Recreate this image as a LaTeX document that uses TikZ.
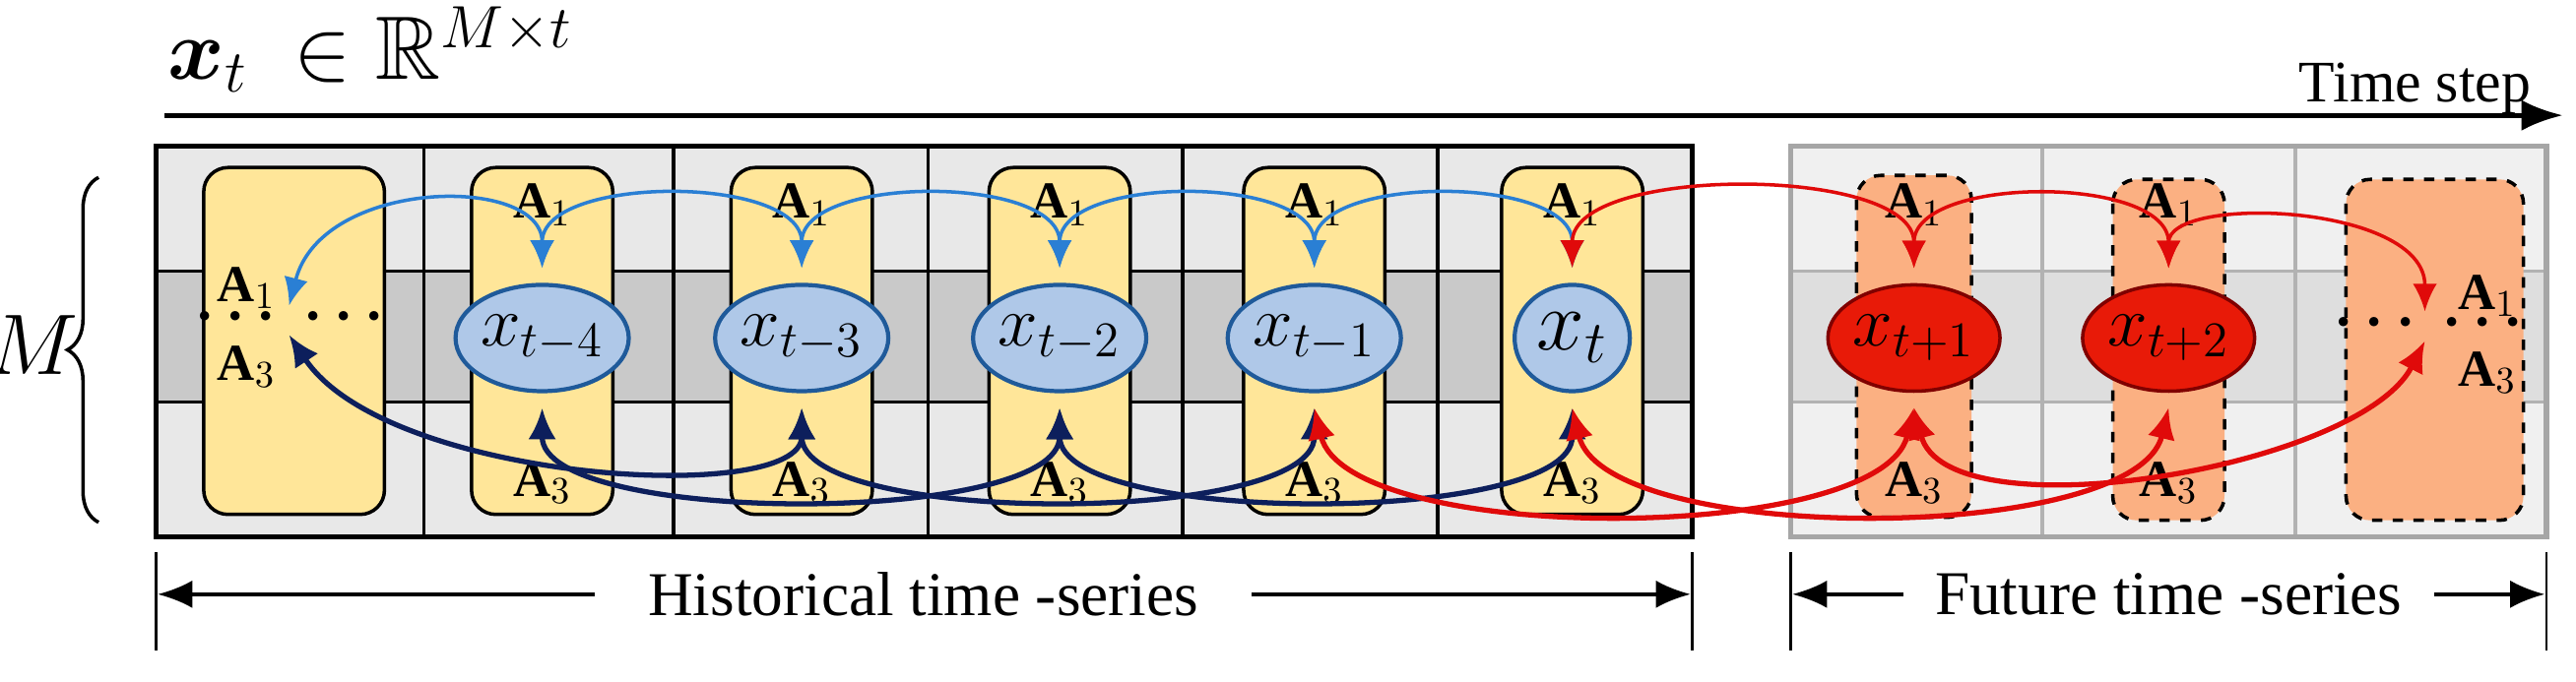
\documentclass[tikz,border=0pt]{standalone}
\usepackage{fontspec}
\setmainfont{Liberation Serif}
\usepackage{amsmath,amssymb}
\usetikzlibrary{arrows.meta,decorations.pathreplacing,shapes.geometric}
\definecolor{lg}{HTML}{E8E8E8}
\definecolor{dg}{HTML}{C9C9C9}
\definecolor{flg}{HTML}{F0F0F0}
\definecolor{fdg}{HTML}{DEDEDE}
\definecolor{yel}{HTML}{FFE699}
\definecolor{cblue}{HTML}{AFC8E8}
\definecolor{cbd}{HTML}{1F5A9A}
\definecolor{orng}{HTML}{FBB082}
\definecolor{cred}{HTML}{E81A08}
\definecolor{lblue}{HTML}{2A7FD4}
\definecolor{navy}{HTML}{0D1F5C}
\definecolor{ared}{HTML}{E00A0A}
\begin{document}
\begin{tikzpicture}[x=0.016684cm,y=-0.010006cm,
  ybox/.style={draw=black,line width=1pt,fill=yel,rounded corners=7pt},
  obox/.style={draw=black,line width=1pt,dashed,fill=orng,rounded corners=7pt},
  hist/.style={draw=cbd,line width=1.2pt,fill=cblue,ellipse,inner sep=0pt,minimum width=1.17cm,minimum height=1.08cm,font=\fontsize{20}{20}\selectfont},
  fut/.style={draw=red!50!black,line width=1pt,fill=cred,ellipse,inner sep=0pt,minimum width=1.17cm,minimum height=1.08cm,font=\fontsize{20}{20}\selectfont},
  lab/.style={font=\fontsize{15}{15}\selectfont},
  ta/.style={{Latex[length=8pt,width=7pt]}-{Latex[length=8pt,width=7pt]},line width=1pt},
  ba/.style={{Latex[length=9pt,width=8pt]}-{Latex[length=9pt,width=8pt]},line width=1.5pt}]
\useasboundingbox (0,0) rectangle (1568,692);
% historical grid
\fill[lg] (95,148) rectangle (1030,545);
\fill[dg] (95,275) rectangle (1030,408);
\foreach \x in {258,410,565,720,875} \draw[line width=1pt] (\x,148) -- (\x,545);
\draw[line width=1pt] (95,275) -- (1030,275) (95,408) -- (1030,408);
\draw[line width=1.5pt] (95,148) rectangle (1030,545);
% future grid
\fill[flg] (1090,148) rectangle (1550,545);
\fill[fdg] (1090,275) rectangle (1550,408);
\foreach \x in {1243,1397} \draw[gray!60,line width=1pt] (\x,148) -- (\x,545);
\draw[gray!60,line width=1pt] (1090,275) -- (1550,275) (1090,408) -- (1550,408);
\draw[gray!70,line width=1.5pt] (1090,148) rectangle (1550,545);
% boxes
\draw[ybox] (124,170) rectangle (234,522);
\foreach \c in {330,488,645,800,957} \draw[ybox] (\c-43,170) rectangle (\c+43,522);
\draw[obox] (1130,178) rectangle (1200,525);
\draw[obox] (1286,182) rectangle (1354,528);
\draw[obox] (1428,182) rectangle (1536,528);
% labels in boxes
\foreach \c in {330,488,645,800,957,1165,1320} {
  \node[lab] at (\c,208) {$\mathbf{A}_1$};
  \node[lab] at (\c,490) {$\mathbf{A}_3$};
}
\node[lab] (b1a) at (150,292) {$\mathbf{A}_1$};
\node[lab] (b1c) at (150,372) {$\mathbf{A}_3$};
\node[font=\fontsize{18}{18}\selectfont] (b1d) at (180,322) {$\boldsymbol{\cdots}\;\boldsymbol{\cdots}$};
\coordinate (B1t) at (176,310);
\coordinate (B1b) at (176,340);
\node[lab] at (1514,300) {$\mathbf{A}_1$};
\node[lab] at (1514,378) {$\mathbf{A}_3$};
\node[font=\fontsize{18}{18}\selectfont] (b7d) at (1482,328) {$\boldsymbol{\cdots}\;\boldsymbol{\cdots}$};
\coordinate (B7t) at (1476,316);
\coordinate (B7b) at (1476,346);
% circles
\node[hist] (n4) at (330,343) {$x_{t-4}$};
\node[hist] (n3) at (488,343) {$x_{t-3}$};
\node[hist] (n2) at (645,343) {$x_{t-2}$};
\node[hist] (n1) at (800,343) {$x_{t-1}$};
\node[hist,font=\fontsize{26}{26}\selectfont] (n0) at (957,343) {$x_t$};
\node[fut] (p1) at (1165,343) {$x_{t+1}$};
\node[fut] (p2) at (1320,343) {$x_{t+2}$};
% top arcs
\foreach \a/\b in {n4/n3,n3/n2,n2/n1,n1/n0} {
  \draw[ta,lblue] ([yshift=0.15cm]\a.north) .. controls +(0,-95) and +(0,-95) .. ([yshift=0.15cm]\b.north);
}
\draw[ta,lblue] (B1t) .. controls +(20,-130) and +(0,-95) .. ([yshift=0.15cm]n4.north);
\draw[ta,ared] ([yshift=0.15cm]n0.north) .. controls +(0,-105) and +(0,-105) .. ([yshift=0.15cm]p1.north);
\draw[ta,ared] ([yshift=0.15cm]p1.north) .. controls +(0,-95) and +(0,-95) .. ([yshift=0.15cm]p2.north);
\draw[ta,ared] ([yshift=0.15cm]p2.north) .. controls +(0,-75) and +(0,-110) .. (B7t);
% bottom arcs
\draw[ba,navy] (B1b) .. controls +(60,150) and +(0,100) .. ([yshift=-0.15cm]n3.south);
\draw[ba,navy] ([yshift=-0.15cm]n4.south) .. controls +(0,120) and +(0,120) .. ([yshift=-0.15cm]n2.south);
\draw[ba,navy] ([yshift=-0.15cm]n3.south) .. controls +(0,120) and +(0,120) .. ([yshift=-0.15cm]n1.south);
\draw[ba,navy] ([yshift=-0.15cm]n2.south) .. controls +(0,120) and +(0,120) .. ([yshift=-0.15cm]n0.south);
\draw[ba,ared] ([yshift=-0.15cm]n1.south) .. controls +(20,140) and +(-20,140) .. ([yshift=-0.15cm]p1.south);
\draw[ba,ared] ([yshift=-0.15cm]n0.south) .. controls +(20,140) and +(-20,140) .. ([yshift=-0.15cm]p2.south);
\draw[ba,ared] ([yshift=-0.15cm]p1.south) .. controls +(20,130) and +(-40,130) .. (B7b);
% title & axis
\node[anchor=west,font=\fontsize{26}{26}\selectfont] (title) at (95,50) {$\boldsymbol{x}_t\ \in\mathbb{R}^{M\times t}$};
\node[anchor=east,font=\fontsize{17}{17}\selectfont] (ts) at (1548,90) {Time step};
\coordinate (ax0) at (100,117);
\coordinate (ax1) at (1560,117);
\draw[line width=1.5pt,-{Latex[length=12pt,width=9pt]}] (ax0) -- (ax1);
% brace
\draw[line width=1pt,decorate,decoration={brace,amplitude=9pt}] (60,530) -- (60,180);
\node[font=\fontsize{24}{24}\selectfont] (M) at (20,350) {$M$};
% dimension lines
\foreach \x in {95,1030,1090,1550} \draw[line width=0.8pt] (\x,560) -- (\x,660);
\node[font=\fontsize{18}{18}\selectfont] (ht) at (562,603) {Historical time -series};
\node[font=\fontsize{18}{18}\selectfont] (ft) at (1320,603) {Future time -series};
\draw[line width=1pt,-{Latex[length=10pt,width=8pt]}] (ht.west) ++(-25,0) -- (96,603);
\draw[line width=1pt,-{Latex[length=10pt,width=8pt]}] (ht.east) ++(25,0) -- (1029,603);
\draw[line width=1pt,-{Latex[length=10pt,width=8pt]}] (ft.west) ++(-12,0) -- (1091,603);
\draw[line width=1pt,-{Latex[length=10pt,width=8pt]}] (ft.east) ++(12,0) -- (1549,603);
\end{tikzpicture}
\end{document}
